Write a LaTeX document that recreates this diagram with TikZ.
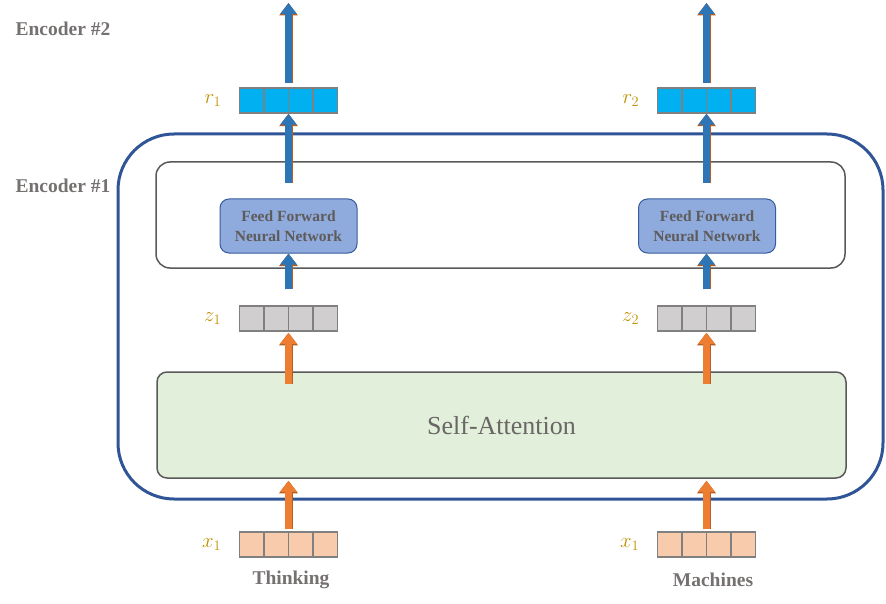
\documentclass[tikz,border=0pt]{standalone}
\usepackage{fontspec}
\setmainfont{Liberation Serif}
\definecolor{EncBlue}{RGB}{47, 85, 151}
\definecolor{TextGray}{RGB}{118, 113, 113}
\definecolor{VecGold}{RGB}{191, 144, 0}
\definecolor{FFNFill}{RGB}{143, 170, 220}
\definecolor{FFNDraw}{RGB}{68, 114, 196}
\definecolor{AttFill}{RGB}{226, 239, 218}
\definecolor{RFill}{RGB}{0, 176, 240}
\definecolor{ZFill}{RGB}{208, 206, 206}
\definecolor{XFill}{RGB}{248, 203, 173}
\definecolor{ArrBlue}{RGB}{46, 117, 182}
\definecolor{ArrOrange}{RGB}{237, 125, 49}
\usetikzlibrary{arrows.meta, positioning, calc}

\tikzset{
	vec/.style={draw=gray, line width=1.5pt, minimum width=98pt, minimum height=25pt, inner sep=0pt,
		path picture={\foreach \k in {1,2,3}
			\draw[gray, line width=1.5pt]
				($(path picture bounding box.north west)!\k/4!(path picture bounding box.north east)$) --
				($(path picture bounding box.south west)!\k/4!(path picture bounding box.south east)$);}},
	lbl/.style={text=VecGold, font=\fontsize{21}{24}\selectfont},
	word/.style={text=TextGray, font=\fontsize{19.5}{22}\selectfont\bfseries},
	ffn/.style={draw=FFNDraw!80!black, fill=FFNFill, rounded corners=9pt, line width=1pt,
		minimum width=137pt, minimum height=54pt, align=center, text=TextGray!80!black,
		font=\fontsize{15.5}{20}\selectfont\bfseries},
	layerbox/.style={draw=black!65, line width=1.5pt, rounded corners=14pt},
	orarrow/.style={preaction={draw=ArrOrange!75!black, line width=8pt, -{Triangle[width=18pt,length=12.5pt]}},
		draw=ArrOrange, line width=7pt, -{Triangle[width=16pt,length=11pt]}},
	blarrow/.style={preaction={draw=ArrOrange!75!black, line width=8pt, -{Triangle[width=18pt,length=12.5pt]}},
		draw=ArrBlue, line width=7pt, -{Triangle[width=16pt,length=11pt]}},
}

\begin{document}
\begin{tikzpicture}[x=1pt, y=-1pt]
	\useasboundingbox (0,0) rectangle (886,604);

	% encoder #1 and its two layers
	\node[draw=EncBlue, line width=3pt, rounded corners=56pt, minimum width=765pt, minimum height=365pt] (enc1) at (500.5,316.5) {};
	\node[layerbox, minimum width=689pt, minimum height=106pt] (ffnlayer) at (500.5,215) {};
	\node[layerbox, fill=AttFill, rounded corners=10pt, minimum width=689pt, minimum height=106pt,
		text=TextGray!90!black, font=\fontsize{26}{30}\selectfont] (selfatt) at (501.5,425) {Self-Attention};

	\node[ffn] (ffnA) at (288.5,226) {Feed Forward\\Neural Network};
	\node[ffn] (ffnB) at (707,226) {Feed Forward\\Neural Network};

	% vectors
	\node[vec, fill=RFill] (rA) at (288.5,100.5) {};
	\node[vec, fill=RFill] (rB) at (706.5,100.5) {};
	\node[vec, fill=ZFill] (zA) at (288.5,318.5) {};
	\node[vec, fill=ZFill] (zB) at (706.5,318.5) {};
	\node[vec, fill=XFill] (xA) at (288.5,544.5) {};
	\node[vec, fill=XFill] (xB) at (706.5,544.5) {};

	\node[lbl, left=14pt of rA] (rAlbl) {$r_1$};
	\node[lbl, left=14pt of rB] (rBlbl) {$r_2$};
	\node[lbl, left=14pt of zA] (zAlbl) {$z_1$};
	\node[lbl, left=14pt of zB] (zBlbl) {$z_2$};
	\node[lbl, left=14pt of xA] (xAlbl) {$x_1$};
	\node[lbl, left=14pt of xB] (xBlbl) {$x_1$};

	\node[word] (thinking) at (291,580) {Thinking};
	\node[word] (machines) at (713,580) {Machines};
	\node[word, anchor=west] (enc2lbl) at (12,29) {Encoder \#2};
	\node[word, anchor=west] (enc1lbl) at (12,186) {Encoder \#1};

	% connectors
	\coordinate (topA) at (288.5,3);
	\coordinate (topB) at (706.5,3);
	\draw[orarrow] ([yshift=2pt]xA.north) -- ([yshift=-2pt]xA.north |- selfatt.south);
	\draw[orarrow] ([yshift=2pt]xB.north) -- ([yshift=-2pt]xB.north |- selfatt.south);
	\draw[orarrow] ([yshift=-13pt]zA.south |- selfatt.north) -- ([yshift=-1pt]zA.south);
	\draw[orarrow] ([yshift=-13pt]zB.south |- selfatt.north) -- ([yshift=-1pt]zB.south);
	\draw[blarrow] ([yshift=16pt]zA.north) -- (ffnA.south);
	\draw[blarrow] ([yshift=16pt]zB.north) -- (zB.north |- ffnB.south);
	\draw[blarrow] ([yshift=-22pt]rA.south |- ffnlayer.north) -- (rA.south);
	\draw[blarrow] ([yshift=-22pt]rB.south |- ffnlayer.north) -- (rB.south);
	\draw[blarrow] ([yshift=4pt]rA.north) -- (topA);
	\draw[blarrow] ([yshift=4pt]rB.north) -- (topB);
\end{tikzpicture}
\end{document}
